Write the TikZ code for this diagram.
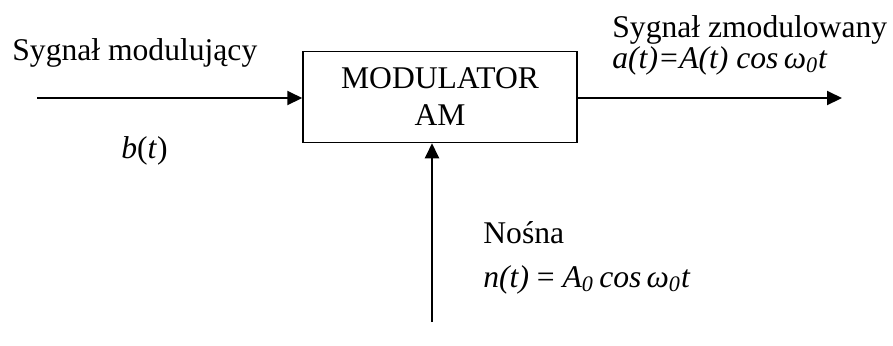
\documentclass[tikz,border=0pt]{standalone}
\usepackage{fontspec}
\setmainfont{Liberation Serif}
\usetikzlibrary{positioning,arrows.meta}

\begin{document}
\begin{tikzpicture}[x=0.5pt, y=-0.5pt,
  block/.style={draw, line width=0.75pt, minimum width=137pt, minimum height=45.5pt, align=center, font=\fontsize{15.8}{18.5}\selectfont},
  txt/.style={anchor=base west, inner sep=0pt, font=\fontsize{15.8}{18}\selectfont},
  sig/.style={line width=1pt, -{Triangle[length=7.5pt,width=7pt]}}]
\useasboundingbox (0,0) rectangle (893,345);
\node[block] (mod) at (440,97) {MODULATOR\\AM};
\coordinate (in) at (37,98);
\coordinate (out) at (842,98);
\coordinate (carrier) at (432,322);
\draw[sig] (in) -- (in -| mod.west);
\draw[sig] (mod.east |- out) -- (out);
\draw[sig] (carrier) -- (carrier |- mod.south);
% signal labels
\node[txt] (inname) at (12,60) {Sygnał modulujący};
\node[txt] (inform) at (121,158) {\textit{b}(\textit{t})};
\node[txt] (outname) at (612,37) {Sygnał zmodulowany};
\node[txt] (outform) at (612,68) {\textit{a(t)=A(t) cos\,ω\textsubscript{0}t}};
\node[txt] (carname) at (483,243) {Nośna};
\node[txt] (carform) at (483,287) {\textit{n(t)} = \textit{A\textsubscript{0}\,cos\,ω\textsubscript{0}t}};
\end{tikzpicture}
\end{document}
